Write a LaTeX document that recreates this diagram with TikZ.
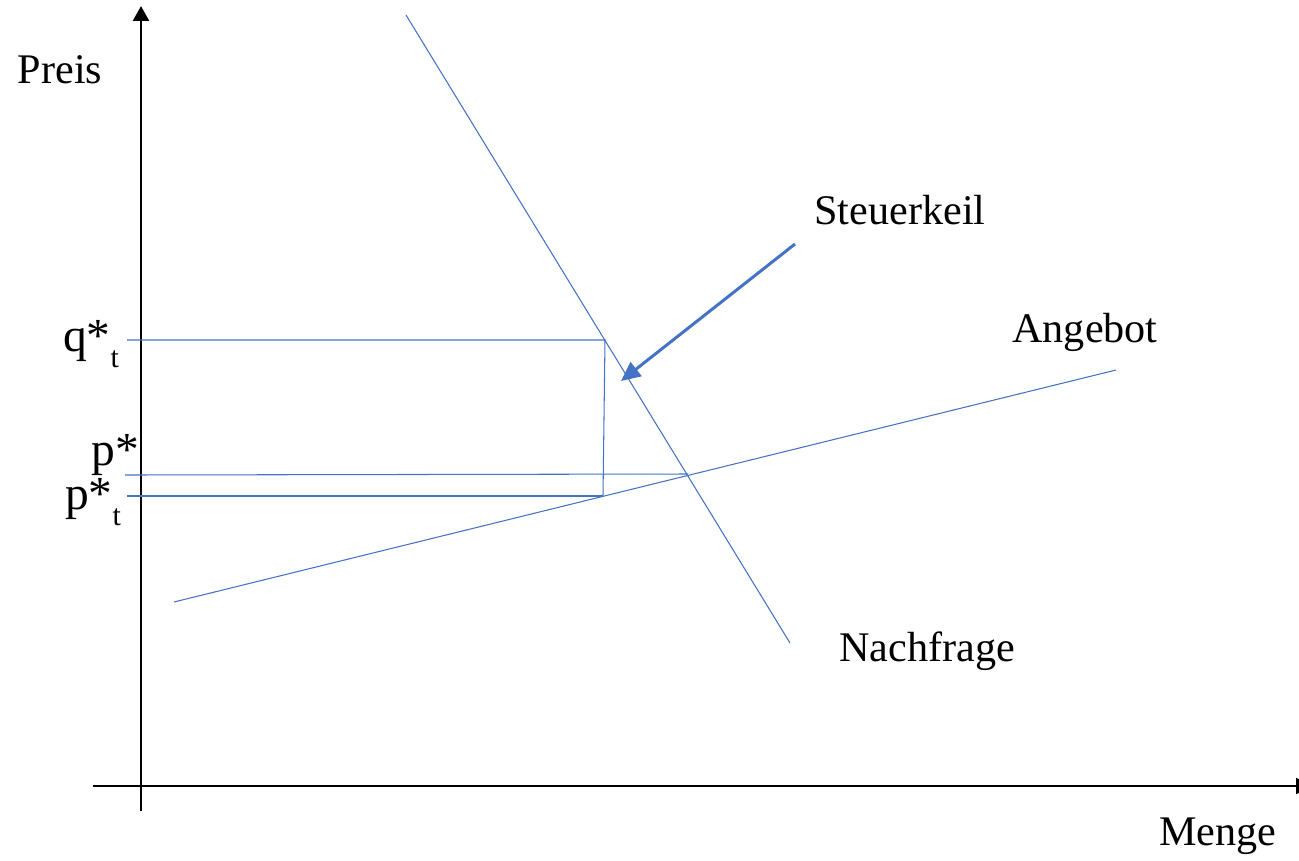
\documentclass[tikz,border=0pt]{standalone}
\usepackage{fontspec}
\setmainfont{Liberation Serif}
\usepackage{tikz}
\usetikzlibrary{arrows.meta}
\definecolor{officeblue}{RGB}{68,114,196}
\tikzset{
	curve/.style={officeblue,line width=0.6pt},
	axis/.style={black,line width=1.6pt,-{Triangle[length=8.5pt,width=9pt]}},
	lbl/.style={inner sep=0pt,font=\fontsize{24}{28}\selectfont},
	plbl/.style={inner sep=0pt,font=\fontsize{27}{30}\selectfont}
}
\begin{document}
\begin{tikzpicture}[x=0.02cm,y=-0.02cm]
	\useasboundingbox (0,0) rectangle (1299,860);
	\coordinate (yA) at (141,811);
	\coordinate (yB) at (141,6);
	\coordinate (xA) at (93,786);
	\coordinate (xB) at (1311,786);
	\draw[axis] (yA) -- (yB);
	\draw[axis] (xA) -- (xB);
	\node[lbl] (preis) at (60,70) {Preis};
	\node[lbl] (menge) at (1218,836) {Menge};
	\coordinate (D1) at (406,15);
	\coordinate (D2) at (790,643);
	\coordinate (S1) at (174,602);
	\coordinate (S2) at (1116,370);
	\draw[curve] (D1) -- (D2);
	\draw[curve] (S1) -- (S2);
	\coordinate (qL) at (127,340);
	\coordinate (qR) at (605,340);
	\coordinate (pL) at (125,475);
	\coordinate (pR) at (688,474);
	\coordinate (ptL) at (127,496);
	\coordinate (ptR) at (603,496);
	\draw[curve] (qL) -- (qR) -- (ptR);
	\draw[curve] (pL) -- (pR);
	\draw[curve] (ptL) -- (ptR);
	\node[plbl] (qlab) at (91,344) {q*\raisebox{-0.35em}{\fontsize{17}{20}\selectfont t}};
	\node[plbl] (plab) at (115,455) {p*};
	\node[plbl] (ptlab) at (93,502) {p*\raisebox{-0.35em}{\fontsize{17}{20}\selectfont t}};
	\node[lbl] (angebot) at (1085,332) {Angebot};
	\node[lbl] (nachfrage) at (927,651) {Nachfrage};
	\node[lbl] (keil) at (900,210) {Steuerkeil};
	\coordinate (kA) at (795,244);
	\coordinate (kB) at (621,381);
	\draw[officeblue,line width=1.7pt,-{Triangle[length=11pt,width=10pt]}] (kA) -- (kB);
\end{tikzpicture}
\end{document}
